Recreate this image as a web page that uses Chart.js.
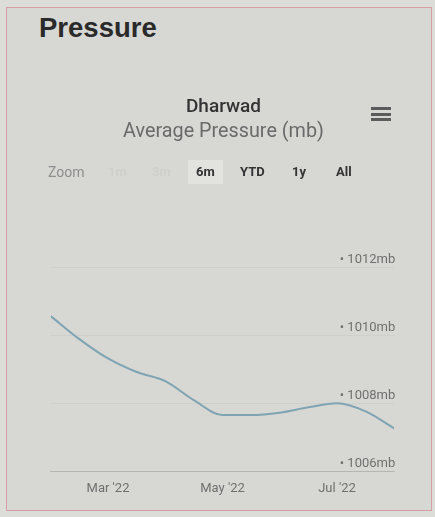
<!DOCTYPE html>
<html>
<head>
<meta charset="utf-8">
<script src="https://cdn.jsdelivr.net/npm/chart.js@4/dist/chart.umd.min.js"></script>
<style>
  html, body { margin: 0; padding: 0; }
  body { width: 435px; height: 517px; background: #dcdcd8; position: relative; overflow: hidden; font-family: Roboto, "Liberation Sans", sans-serif; }
  #card { position: absolute; left: 6px; top: 7px; width: 426px; height: 504px; border: 1.5px solid #d69ea6; background: #d7d7d3; box-sizing: border-box; }
  h1 { position: absolute; left: 39px; top: 12px; margin: 0; font-family: "Liberation Sans", Arial, sans-serif; font-size: 27.5px; line-height: 32px; font-weight: 700; color: #2a2a2a; }
  #chartbox { position: absolute; left: 6px; top: 90px; width: 427px; height: 417px; }
  #menu { position: absolute; left: 371px; top: 107px; width: 20px; }
  #menu div { height: 3px; background: #5c5c5c; margin-bottom: 2.5px; }
  #zoom { position: absolute; top: 164px; left: 0; width: 435px; font-size: 13px; line-height: 16px; color: #333; }
  #zoom span { position: absolute; top: 0; font-weight: 700; }
  #zoom .lbl { color: #8e8e8e; font-weight: 400; font-size: 14px; }
  #zoom .off { color: #cfcfcb; }
  #zoom .on { background: #e2e2de; padding: 4px 8px; top: -4px; }
</style>
</head>
<body>
<div id="card"></div>
<h1>Pressure</h1>
<div id="chartbox"><canvas id="pressure"></canvas></div>
<div id="menu"><div></div><div></div><div></div></div>
<div id="zoom">
  <span class="lbl" style="left:48px">Zoom</span>
  <span class="off" style="left:108px">1m</span>
  <span class="off" style="left:152px">3m</span>
  <span class="on" style="left:188px">6m</span>
  <span style="left:240px">YTD</span>
  <span style="left:292px">1y</span>
  <span style="left:336px">All</span>
</div>
<script>
// mois (3 = mars 2022), relevés tous les demi-mois
const months = [2, 2.5, 3, 3.5, 4, 4.5, 5, 5.5, 6, 6.5, 7, 7.5, 8];
const pressure = [1010.58, 1009.9, 1009.33, 1008.93, 1008.66, 1008.1, 1007.66, 1007.66, 1007.73, 1007.89, 1008.01, 1007.77, 1007.27];
const monthLabels = { 3: "Mar '22", 5: "May '22", 7: "Jul '22" };
const yTicks = [1006, 1008, 1010, 1012];

const ctx = document.getElementById("pressure").getContext("2d");

new Chart(ctx, {
  type: "line",
  data: {
    datasets: [{
      label: "Dharwad",
      data: months.map((m, i) => ({ x: m, y: pressure[i] })),
      borderColor: "#7fa4b4",
      borderWidth: 2,
      pointRadius: 0,
      tension: 0.4,
      cubicInterpolationMode: "monotone",
      fill: false
    }]
  },
  options: {
    responsive: true,
    maintainAspectRatio: false,
    animation: false,
    layout: { padding: { left: 44.75, right: 36.75, bottom: 0 } },
    plugins: {
      legend: { display: false },
      tooltip: { enabled: false },
      title: {
        display: true,
        text: "Dharwad",
        color: "#333",
        font: { size: 19, weight: 500, family: "Roboto" },
        padding: { top: 6, bottom: 0 }
      },
      subtitle: {
        display: true,
        text: "Average Pressure (mb)",
        color: "#6a6a6a",
        font: { size: 19.8, family: "Roboto" },
        padding: { top: 1, bottom: 124.4 }
      }
    },
    scales: {
      x: {
        type: "linear",
        min: 2,
        max: 8,
        ticks: {
          stepSize: 1,
          autoSkip: false,
          maxRotation: 0,
          padding: 10,
          color: "#707070",
          font: { size: 13, family: "Roboto" },
          callback: (v) => monthLabels[v] || ""
        },
        grid: { display: false, drawTicks: false },
        border: { display: true, color: "rgba(0,0,0,0.13)" }
      },
      y: {
        position: "right",
        min: 1006,
        max: 1012,
        afterBuildTicks: (axis) => { axis.ticks = yTicks.map(v => ({ value: v })); },
        ticks: {
          mirror: true,
          padding: 1,
          labelOffset: -8,
          color: "#707070",
          font: { size: 13, family: "Roboto" },
          callback: (v) => "\u2022 " + v + "mb"
        },
        grid: { color: "rgba(0,0,0,0.035)", drawTicks: false },
        border: { display: false }
      }
    }
  }
});
</script>
</body>
</html>
